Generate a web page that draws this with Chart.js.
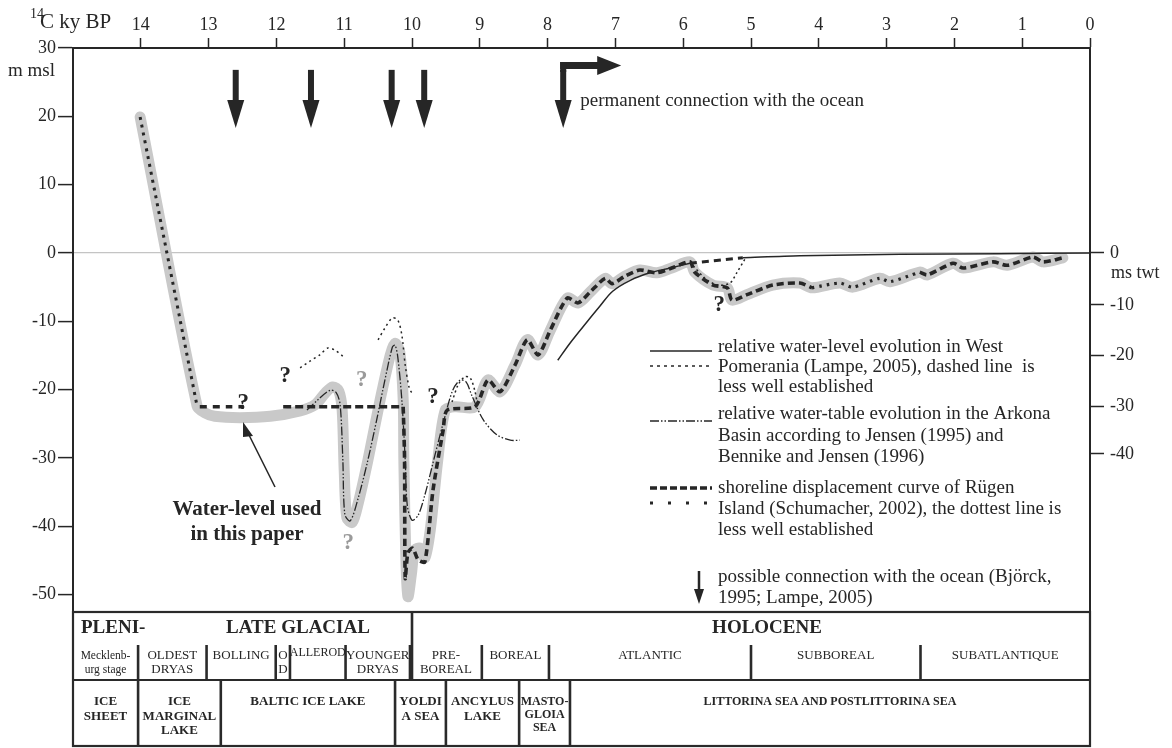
<!DOCTYPE html>
<html><head><meta charset="utf-8">
<script src="https://cdn.jsdelivr.net/npm/chart.js@4.4.0/dist/chart.umd.min.js"></script>
<style>html,body{margin:0;padding:0;background:#fff;}#wrap{width:1172px;height:748px;}</style>
</head><body><div id="wrap"><canvas id="c" width="1172" height="748"></canvas></div>
<script>
// ---------- DATA ----------
const kyTicks = [14,13,12,11,10,9,8,7,6,5,4,3,2,1,0];
const mslTicks = [30,20,10,0,-10,-20,-30,-40,-50];
const twtLabels = ['0','-10','-20','-30','-40'];
const twtAtMsl = [0,-7.6,-15,-22.5,-29.4];

// water level used in this paper (grey band) [ky BP, m msl]
const grayCurve = [[14.01,19.9],[13.17,-22.4],[13.05,-23.4],[12.91,-23.9],[12.54,-24.1],[12.09,-23.9],[11.65,-23.1],[11.43,-22.2],[11.28,-20.5],[11.17,-19.6],[11.08,-20.2],[11.03,-23.0],[11.0,-31.8],[10.96,-38.8],[10.88,-39.4],[10.8,-36.9],[10.65,-30.3],[10.47,-21.5],[10.32,-14.9],[10.25,-13.2],[10.18,-14.5],[10.13,-21.5],[10.12,-30.3],[10.09,-44.9],[10.06,-50.3],[10.01,-47.1],[9.96,-43.5],[9.88,-43.2],[9.81,-44.6],[9.73,-40.5],[9.62,-30.3],[9.51,-23.0],[9.37,-22.5],[9.07,-22.5],[8.88,-18.6],[8.7,-20.3],[8.48,-16.4],[8.3,-12.7],[8.14,-14.9],[7.96,-11.3],[7.71,-6.6],[7.55,-7.3],[7.37,-5.7],[7.15,-3.7],[7.05,-4.5],[6.86,-3.4],[6.64,-2.5],[6.39,-2.9],[6.17,-2.2],[5.9,-1.3],[5.83,-2.8],[5.56,-4.7],[5.35,-5.1],[5.28,-6.9],[5.06,-6.1],[4.68,-4.7],[4.28,-4.4],[4.1,-5.1],[3.69,-4.4],[3.5,-5.0],[3.1,-3.7],[2.95,-4.2],[2.51,-2.8],[2.4,-3.2],[2.02,-1.5],[1.87,-2.2],[1.43,-1.3],[1.22,-1.8],[0.84,-0.6],[0.69,-1.3],[0.4,-0.7]];

// Ruegen shoreline displacement (Schumacher 2002)
const ruegenDotted = [[14.01,19.9],[13.17,-22.4]];
const ruegenFlatA = [[13.13,-22.5],[12.65,-22.5]];
const ruegenFlatB = [[12.56,-22.5],[12.48,-22.5]];
const ruegenFlatC = [[11.9,-22.5],[10.13,-22.5]];
const ruegenMain = [[10.13,-22.5],[10.11,-30.0],[10.1,-47.6],[10.06,-43.9],[9.99,-43.2],[9.91,-44.9],[9.81,-45.2],[9.69,-34.7],[9.54,-25.9],[9.48,-23.0],[9.07,-22.5],[8.88,-18.6],[8.7,-20.3],[8.48,-16.4],[8.3,-12.7],[8.14,-14.9],[7.96,-11.3],[7.71,-6.6],[7.55,-7.3],[7.37,-5.7],[7.15,-3.7],[7.05,-4.5],[6.86,-3.4],[6.64,-2.5],[6.39,-2.9],[6.17,-2.2],[5.9,-1.3],[5.83,-2.8],[5.56,-4.7],[5.35,-5.1],[5.28,-6.9],[5.06,-6.1],[4.68,-4.7],[4.28,-4.4],[4.1,-5.1]];
const ruegenLessSure = [[4.1,-5.1],[3.69,-4.4],[3.5,-5.0],[3.1,-3.7],[2.95,-4.2],[2.51,-2.8]];
const ruegenLate = [[2.51,-2.8],[2.4,-3.2],[2.02,-1.5],[1.87,-2.2],[1.43,-1.3],[1.22,-1.8],[0.84,-0.6],[0.69,-1.3],[0.4,-0.7]];

// West Pomerania (Lampe 2005)
const lampeSolidEarly = [[7.85,-15.7],[7.67,-13.2],[7.42,-10.1],[7.23,-7.8],[7.04,-5.6],[6.78,-4.0],[6.49,-2.9],[6.19,-2.2],[5.9,-1.5]];
const lampeDashed = [[5.9,-1.5],[5.12,-0.7]];
const lampeSolidLate = [[5.12,-0.7],[4.28,-0.4],[2.8,-0.2],[1.33,-0.1],[0,0]];
const lampeDotV = [[5.85,-1.9],[5.68,-3.7],[5.49,-4.7],[5.31,-4.4],[5.21,-2.9],[5.09,-0.9]];
const lampeDotA = [[11.65,-16.8],[11.5,-15.8],[11.36,-14.9],[11.24,-13.9],[11.14,-14.2],[11.02,-15.1]];
const lampeDotB = [[10.5,-12.7],[10.4,-11.0],[10.29,-9.5],[10.21,-9.8],[10.15,-12.0],[10.1,-16.4],[10.04,-19.8],[10.0,-20.5]];
const lampeDotC = [[9.41,-21.8],[9.32,-19.3],[9.22,-18.1],[9.14,-18.3],[9.07,-20.3],[9.03,-22.5]];

// Arkona Basin (Jensen 1995; Bennike & Jensen 1996)
const jensenCurve = [[11.55,-23.0],[11.39,-21.5],[11.21,-20.1],[11.12,-20.4],[11.06,-22.2],[11.02,-30.3],[10.99,-38.3],[10.91,-39.2],[10.8,-36.1],[10.66,-30.7],[10.52,-24.4],[10.4,-18.6],[10.29,-13.8],[10.25,-13.5],[10.21,-15.2],[10.15,-21.5],[10.1,-30.3],[10.07,-36.9],[10.0,-39.1],[9.91,-38.4],[9.81,-35.4],[9.69,-30.7],[9.54,-24.9],[9.4,-20.1],[9.29,-18.6],[9.2,-18.9],[9.12,-20.8],[8.95,-24.4],[8.75,-26.6],[8.55,-27.4],[8.41,-27.4]];

// possible connections with the ocean (ky BP)
const connectionKy = [12.6, 11.49, 10.3, 9.82, 7.77];
const permanentKy = 7.77;

// question marks [ky, m, grey?]
const questionMarks = [[11.87,-18.0,0],[12.49,-22.0,0],[9.69,-21.1,0],[5.47,-7.6,0],[10.74,-18.6,1],[10.94,-42.5,1]];

// chronostratigraphy table
const epochEdges = [15,10,0];
const subEdges = [15,14.04,13.03,12.01,11.8,10.98,10.03,8.97,7.98,5.0,2.5,0];
const subNames = [['Mecklenb-','urg stage'],['OLDEST','DRYAS'],['BOLLING'],['O','D'],['ALLEROD'],['YOUNGER','DRYAS'],['PRE-','BOREAL'],['BOREAL'],['ATLANTIC'],['SUBBOREAL'],['SUBATLANTIQUE']];
const stageEdges = [15,14.04,12.82,10.25,9.5,8.42,7.67,0];
const stageNames = [['ICE','SHEET'],['ICE','MARGINAL','LAKE'],['BALTIC ICE LAKE'],['YOLDI','A SEA'],['ANCYLUS','LAKE'],['MASTO-','GLOIA','SEA'],['LITTORINA SEA AND POSTLITTORINA SEA']];

// ---------- CHART ----------
const SERIF = '"Liberation Serif","Times New Roman",serif';
const INK = '#262626';
const pts = a => a.map(p => ({x:p[0], y:p[1]}));
const ds = (arr, o) => Object.assign({data:pts(arr), pointRadius:0, fill:false, tension:0.3, borderColor:INK, borderWidth:1.4, borderCapStyle:'butt', borderJoinStyle:'round', order:1}, o);

const datasets = [
  ds(ruegenMain, {borderWidth:3.6, borderDash:[7,4], tension:0.25}),
  ds(ruegenLate, {borderWidth:3.6, borderDash:[7,4], tension:0.25}),
  ds(ruegenLessSure, {borderWidth:3.2, borderDash:[2.5,5], tension:0.25}),
  ds(ruegenDotted, {borderWidth:3, borderDash:[3,5]}),
  ds(ruegenFlatA, {borderWidth:3.6, borderDash:[7,6], tension:0}),
  ds(ruegenFlatB, {borderWidth:3.6, borderDash:[7,6], tension:0}),
  ds(ruegenFlatC, {borderWidth:3.6, borderDash:[8,4], tension:0}),
  ds(lampeSolidEarly, {borderWidth:1.5, tension:0.35}),
  ds(lampeSolidLate, {borderWidth:1.5}),
  ds(lampeDashed, {borderWidth:3, borderDash:[7,5]}),
  ds(lampeDotV, {borderWidth:1.5, borderDash:[2,3]}),
  ds(lampeDotA, {borderWidth:1.5, borderDash:[2,3.5]}),
  ds(lampeDotB, {borderWidth:1.5, borderDash:[2,3.5]}),
  ds(lampeDotC, {borderWidth:1.5, borderDash:[2,3]}),
  ds(jensenCurve, {borderWidth:1.3, borderDash:[9,2,1.5,2,1.5,2], tension:0.3, order:2}),
  ds(grayCurve, {borderColor:'#c9c9c9', borderWidth:11, borderCapStyle:'round', tension:0.3, order:10})
];

function downArrow(ctx, x, y0, y1, sw, hw, hh){
  ctx.fillRect(x - sw/2, y0, sw, y1 - hh - y0 + 1);
  ctx.beginPath(); ctx.moveTo(x - hw/2, y1 - hh); ctx.lineTo(x + hw/2, y1 - hh); ctx.lineTo(x, y1); ctx.closePath(); ctx.fill();
}

const overlay = {
  id:'overlay',
  afterDraw(chart){
    const ctx = chart.ctx, xs = chart.scales.x, ys = chart.scales.y;
    const X = v => xs.getPixelForValue(v), Y = v => ys.getPixelForValue(v);
    const L = chart.chartArea.left, R = chart.chartArea.right, B = chart.chartArea.bottom;
    ctx.save();
    ctx.fillStyle = INK; ctx.strokeStyle = INK;

    // axis titles
    ctx.textBaseline = 'alphabetic'; ctx.textAlign = 'left';
    ctx.font = '14px ' + SERIF; ctx.fillText('14', 30, 18);
    ctx.font = '21px ' + SERIF; ctx.fillText('C ky BP', 40, 28);
    ctx.textBaseline = 'middle';
    ctx.font = '19px ' + SERIF; ctx.fillText('m msl', 8, 71);
    ctx.font = '18px ' + SERIF; ctx.fillText('ms twt', 1111, 273);

    // arrows: possible connections
    connectionKy.forEach(k => downArrow(ctx, X(k), Y(26.8), Y(18.3), 6, 17, 28));
    // permanent connection L-arrow
    const px = X(permanentKy);
    ctx.fillRect(px - 3, 62, 38, 7);
    ctx.beginPath(); ctx.moveTo(px + 34, 56); ctx.lineTo(px + 58, 65.5); ctx.lineTo(px + 34, 75); ctx.closePath(); ctx.fill();
    ctx.fillRect(px - 3, 62, 6, 10);
    ctx.font = '19px ' + SERIF; ctx.textAlign = 'left';
    ctx.fillText('permanent connection with the ocean', px + 17, 101);

    // question marks
    ctx.font = 'bold 23px ' + SERIF; ctx.textAlign = 'center';
    questionMarks.forEach(q => { ctx.fillStyle = q[2] ? '#9a9a9a' : INK; ctx.fillText('?', X(q[0]), Y(q[1])); });
    ctx.fillStyle = INK;

    // water-level label and arrow
    ctx.font = 'bold 21px ' + SERIF;
    ctx.fillText('Water-level used', 247, 510);
    ctx.fillText('in this paper', 247, 535);
    ctx.lineWidth = 1.6;
    ctx.beginPath(); ctx.moveTo(275, 487); ctx.lineTo(248, 433); ctx.stroke();
    ctx.beginPath(); ctx.moveTo(243, 422); ctx.lineTo(253, 436); ctx.lineTo(243, 437); ctx.closePath(); ctx.fill();

    // legend
    const tx = 718;
    ctx.textAlign = 'left'; ctx.font = '19px ' + SERIF;
    const lines = [['relative water-level evolution in West',347],['Pomerania (Lampe, 2005), dashed line  is',367],['less well established',387],
      ['relative water-table evolution in the Arkona',414],['Basin according to Jensen (1995) and',436],['Bennike and Jensen (1996)',457],
      ['shoreline displacement curve of Rügen',488],['Island (Schumacher, 2002), the dottest line is',509],['less well established',530],
      ['possible connection with the ocean (Björck,',577],['1995; Lampe, 2005)',598]];
    lines.forEach(l => ctx.fillText(l[0], tx, l[1]));
    const sample = (y, w, dash) => { ctx.lineWidth = w; ctx.setLineDash(dash); ctx.beginPath(); ctx.moveTo(650, y); ctx.lineTo(712, y); ctx.stroke(); };
    sample(351, 1.6, []);
    sample(366, 1.6, [3,4]);
    sample(421, 1.3, [9,2,1.5,2,1.5,2]);
    sample(488, 3.6, [7,3]);
    sample(503, 3.2, [3,15]);
    ctx.setLineDash([]);
    downArrow(ctx, 699, 571, 604, 2.5, 10, 15);

    // ---- table ----
    const T0 = B, T1 = 645, T2 = 680, T3 = 746;
    ctx.lineWidth = 2.2; ctx.strokeStyle = '#2a2a2a';
    ctx.strokeRect(L, T0, R - L, T3 - T0);
    ctx.beginPath(); ctx.moveTo(L, T2); ctx.lineTo(R, T2); ctx.stroke();
    ctx.lineWidth = 2.6;
    epochEdges.slice(1, -1).forEach(k => { ctx.beginPath(); ctx.moveTo(X(k), T0); ctx.lineTo(X(k), T2); ctx.stroke(); });
    subEdges.slice(1, -1).forEach(k => { ctx.beginPath(); ctx.moveTo(X(k), T1); ctx.lineTo(X(k), T2); ctx.stroke(); });
    stageEdges.slice(1, -1).forEach(k => { ctx.beginPath(); ctx.moveTo(X(k), T2); ctx.lineTo(X(k), T3); ctx.stroke(); });

    ctx.font = 'bold 19px ' + SERIF; ctx.textAlign = 'left';
    ctx.fillText('PLENI-', L + 8, 628);
    ctx.textAlign = 'center';
    ctx.fillText('LATE GLACIAL', 298, 628);
    ctx.fillText('HOLOCENE', (X(10) + R) / 2 + 16, 628);

    subNames.forEach((n, i) => {
      const cx = (X(subEdges[i]) + X(subEdges[i+1])) / 2;
      let f = '13px ', y0 = 656;
      if (i === 0) f = '11.5px ';
      if (n[0] === 'ALLEROD') { f = '12px '; y0 = 653; }
      ctx.font = f + SERIF;
      n.forEach((t, j) => ctx.fillText(t, cx, y0 + j * 14));
    });

    stageNames.forEach((n, i) => {
      const cx = (X(stageEdges[i]) + X(stageEdges[i+1])) / 2;
      let f = 'bold 13px ', dy = 14.5;
      if (n[0] === 'MASTO-' ) { f = 'bold 12px '; dy = 13; }
      if (n[0].startsWith('LITTORINA')) f = 'bold 12px ';
      ctx.font = f + SERIF;
      n.forEach((t, j) => ctx.fillText(t, cx, 702 + j * dy));
    });
    ctx.restore();
  }
};

const tickFont = {family: SERIF, size: 18};
new Chart(document.getElementById('c'), {
  type: 'line',
  data: { datasets },
  options: {
    responsive: false, animation: false, devicePixelRatio: 1,
    layout: { padding: { left: 0, right: 0, top: 0, bottom: 136 } },
    plugins: { legend: { display: false }, tooltip: { enabled: false } },
    scales: {
      x: {
        type: 'linear', position: 'top', min: 0, max: 15, reverse: true,
        afterBuildTicks: s => { s.ticks = kyTicks.map(v => ({value: v})); },
        afterFit: s => { s.height = 48; },
        ticks: { font: tickFont, color: INK, padding: 2, maxRotation: 0, autoSkip: false, callback: v => String(v) },
        grid: { drawOnChartArea: false, tickLength: 10, tickColor: INK, tickWidth: 1.5 },
        border: { color: INK, width: 2 }
      },
      y: {
        type: 'linear', position: 'left', min: -52.54, max: 30,
        afterBuildTicks: s => { s.ticks = mslTicks.map(v => ({value: v})); },
        afterFit: s => { s.width = 73; },
        ticks: { font: tickFont, color: INK, padding: 2, autoSkip: false, callback: v => String(v) },
        grid: { drawOnChartArea: true, color: c => (c.tick && c.tick.value === 0) ? '#c4c4c4' : 'rgba(0,0,0,0)', lineWidth: 1.2, tickLength: 15, tickColor: INK, tickWidth: 1.5 },
        border: { color: INK, width: 2 }
      },
      y2: {
        type: 'linear', position: 'right', min: -52.54, max: 30,
        afterBuildTicks: s => { s.ticks = twtAtMsl.map(v => ({value: v})); },
        afterFit: s => { s.width = 82; },
        ticks: { font: tickFont, color: INK, padding: 6, autoSkip: false, callback: (v, i) => twtLabels[i] },
        grid: { drawOnChartArea: false, tickLength: 14, tickColor: INK, tickWidth: 1.5 },
        border: { color: INK, width: 2 }
      }
    }
  },
  plugins: [overlay]
});
</script></body></html>
